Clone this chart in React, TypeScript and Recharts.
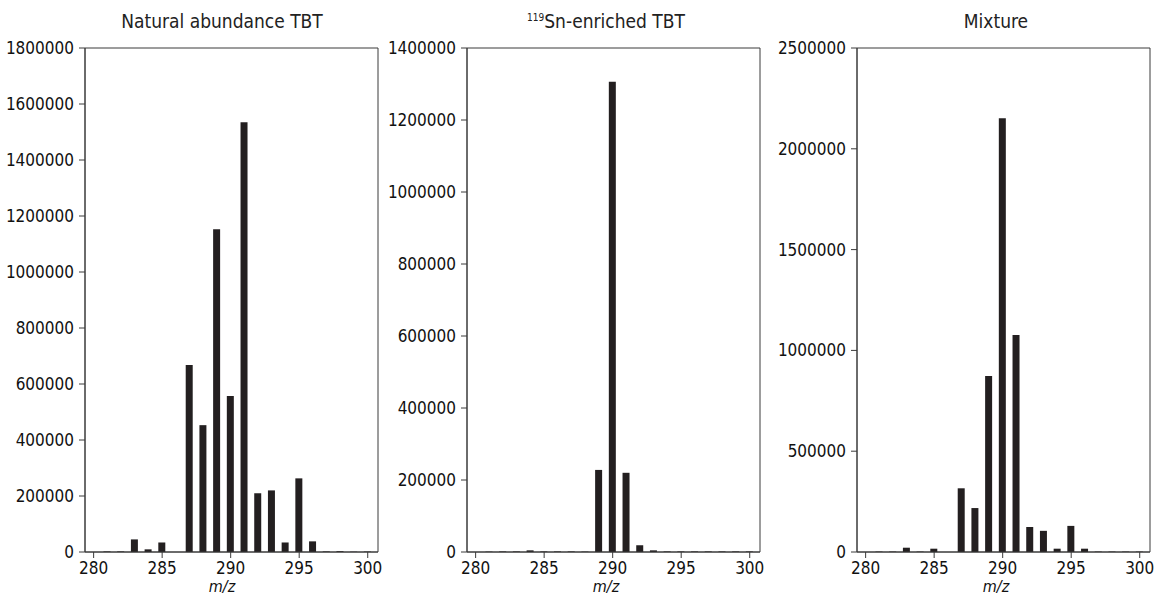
import React from 'react';
import { BarChart, Bar, XAxis, YAxis, ReferenceArea } from 'recharts';

const mz = [281, 282, 283, 284, 285, 286, 287, 288, 289, 290, 291, 292, 293, 294, 295, 296, 297, 298, 299, 300];
const naturalTBT = [2000, 2000, 45000, 9500, 34000, 0, 668000, 453000, 1153000, 557000, 1535000, 210000, 220000, 34000, 263000, 38000, 2000, 3000, 1000, 1500];
const enrichedTBT = [1000, 1500, 1500, 4600, 1500, 1500, 1500, 1000, 228000, 1306000, 220000, 18600, 4600, 1500, 1500, 1500, 1500, 1500, 1500, 1500];
const mixtureTBT = [2000, 2000, 21300, 2000, 16400, 0, 316000, 218000, 873000, 2152000, 1076000, 124600, 105000, 16400, 129500, 16400, 2000, 2000, 2000, 2000];

const xTicks = [280, 285, 290, 295, 300];
const ticks1 = [0, 200000, 400000, 600000, 800000, 1000000, 1200000, 1400000, 1600000, 1800000];
const ticks2 = [0, 200000, 400000, 600000, 800000, 1000000, 1200000, 1400000];
const ticks3 = [0, 500000, 1000000, 1500000, 2000000, 2500000];

const titles = ['Natural abundance TBT', 'Sn-enriched TBT', 'Mixture'];

const FONT = "'DejaVu Sans Condensed', 'Liberation Sans Narrow', sans-serif";
const AXIS = '#3a3a3a';
const BAR = '#231f20';
const X_DOMAIN: [number, number] = [279.37, 300.75];

type PanelProps = { values: number[]; ticks: number[]; left: number };

function Panel({ values, ticks, left }: PanelProps) {
  const data = mz.map((m, i) => ({ mz: m, v: values[i] }));
  const max = ticks[ticks.length - 1];
  return (
    <div style={{ position: 'absolute', left, top: 0 }}>
      <BarChart width={395} height={594} data={data} margin={{ top: 48, right: 17, bottom: 0, left: 0 }}>
        <XAxis
          dataKey="mz"
          type="number"
          domain={X_DOMAIN}
          ticks={xTicks}
          allowDataOverflow
          tickSize={6}
          tickMargin={4}
          height={42}
          stroke={AXIS}
          tick={{ fill: '#111', fontSize: 17, fontFamily: FONT }}
        />
        <YAxis
          type="number"
          domain={[0, max]}
          ticks={ticks}
          width={85}
          tickSize={6}
          tickMargin={5}
          interval={0}
          stroke={AXIS}
          tick={{ fill: '#111', fontSize: 17, fontFamily: FONT }}
        />
        <ReferenceArea x1={X_DOMAIN[0]} x2={X_DOMAIN[1]} y1={0} y2={max} fill="none" fillOpacity={0} stroke={AXIS} strokeWidth={1} ifOverflow="visible" />
        <Bar dataKey="v" fill={BAR} barSize={7} isAnimationActive={false} />
      </BarChart>
    </div>
  );
}

const titleCenters = [222, 606, 996];

export default function App() {
  return (
    <div style={{ position: 'absolute', left: 0, top: 0, width: 1155, height: 594, background: '#fff', fontFamily: FONT, color: '#222' }}>
      <Panel values={naturalTBT} ticks={ticks1} left={0} />
      <Panel values={enrichedTBT} ticks={ticks2} left={381.7} />
      <Panel values={mixtureTBT} ticks={ticks3} left={771.7} />
      {titles.map((t, i) => (
        <div
          key={t}
          style={{ position: 'absolute', left: titleCenters[i] - 150, top: 9, width: 300, textAlign: 'center', fontSize: 19, lineHeight: '24px' }}
        >
          {i === 1 ? (
            <span>
              <sup style={{ fontSize: 10, verticalAlign: 'top', lineHeight: '14px', position: 'relative', top: 2 }}>119</sup>
              {t}
            </span>
          ) : (
            t
          )}
        </div>
      ))}
      {titleCenters.map((c, i) => (
        <div
          key={'mz' + i}
          style={{ position: 'absolute', left: c - 50, top: 580, width: 100, textAlign: 'center', fontSize: 16, lineHeight: '14px', fontStyle: 'italic', color: '#111' }}
        >
          m/z
        </div>
      ))}
    </div>
  );
}
